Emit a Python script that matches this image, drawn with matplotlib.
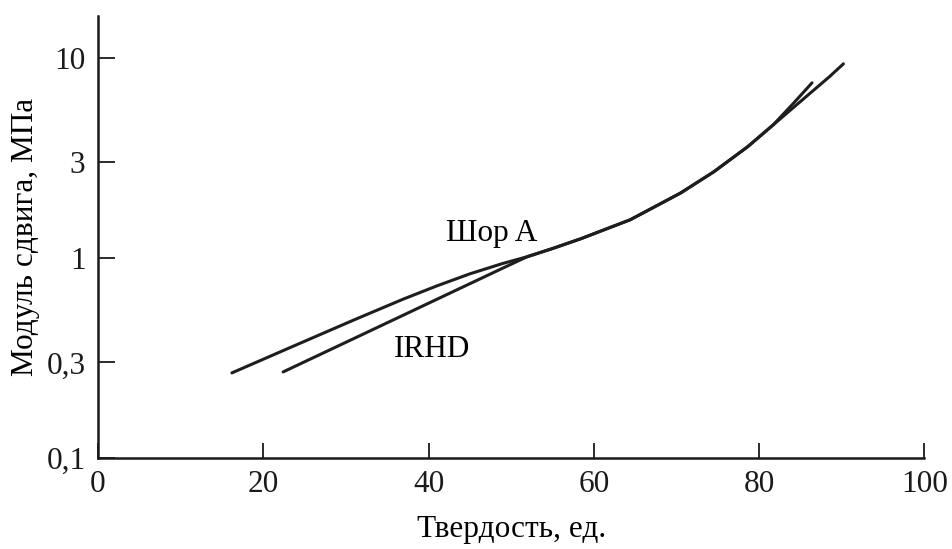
import matplotlib
matplotlib.use("Agg")
import matplotlib.pyplot as plt

# Data
shore_x = [16.2, 22.9, 30.9, 36.9, 41.0, 45.0, 49.0, 51.9, 55.1, 58.4, 64.4, 70.5, 74.5, 78.6, 81.7, 84.1, 86.4]
shore_y = [0.266, 0.351, 0.488, 0.621, 0.724, 0.832, 0.938, 1.012, 1.117, 1.245, 1.55, 2.11, 2.69, 3.59, 4.62, 5.89, 7.5]
irhd_x = [22.4, 30.9, 36.9, 43.0, 49.0, 51.9, 55.1, 58.4, 64.4, 70.5, 74.5, 78.6, 81.7, 84.1, 86.6, 88.5, 90.2]
irhd_y = [0.269, 0.394, 0.516, 0.679, 0.889, 1.012, 1.117, 1.245, 1.55, 2.11, 2.69, 3.59, 4.62, 5.62, 6.89, 8.04, 9.33]

x_ticks = [0, 20, 40, 60, 80, 100]
y_ticks = [0.1, 0.3, 1, 3, 10]
y_tick_labels = ["0,1", "0,3", "1", "3", "10"]
labels = ["Шор A", "IRHD"]

plt.rcParams['font.family'] = ['Liberation Serif', 'DejaVu Serif']

fig = plt.figure(figsize=(9.52, 5.49), dpi=100)
ax = fig.add_axes([0.103, 0.166, 0.868, 0.805])

col = '#1e1e1e'
ax.plot(shore_x, shore_y, color=col, lw=2.2, solid_capstyle='round', solid_joinstyle='round')
ax.plot(irhd_x, irhd_y, color=col, lw=2.2, solid_capstyle='round', solid_joinstyle='round')

ax.set_yscale('log')
ax.set_xlim(0, 100)
ax.set_ylim(0.1, 16.2)
ax.set_xticks(x_ticks)
ax.set_xticklabels([str(v) for v in x_ticks])
ax.set_yticks(y_ticks)
ax.set_yticklabels(y_tick_labels)
ax.minorticks_off()

for s in ['top', 'right']:
    ax.spines[s].set_visible(False)
for s in ['left', 'bottom']:
    ax.spines[s].set_linewidth(1.8)
    ax.spines[s].set_color('#1a1a1a')

fs = 22.5
ax.tick_params(axis='x', direction='in', length=11, width=1.3, pad=9, labelsize=fs, colors='#1a1a1a')
ax.tick_params(axis='y', direction='in', length=12, width=1.3, pad=9, labelsize=fs, colors='#1a1a1a')

ax.set_xlabel("Твердость, ед.", fontsize=fs, labelpad=11)
ax.set_ylabel("Модуль сдвига, МПа", fontsize=fs, labelpad=4.5)

ax.text(47.6, 1.33, labels[0], fontsize=fs, ha='center', va='center')
ax.text(40.4, 0.35, labels[1], fontsize=fs, ha='center', va='center')

fig.savefig("out.png", dpi=100)
